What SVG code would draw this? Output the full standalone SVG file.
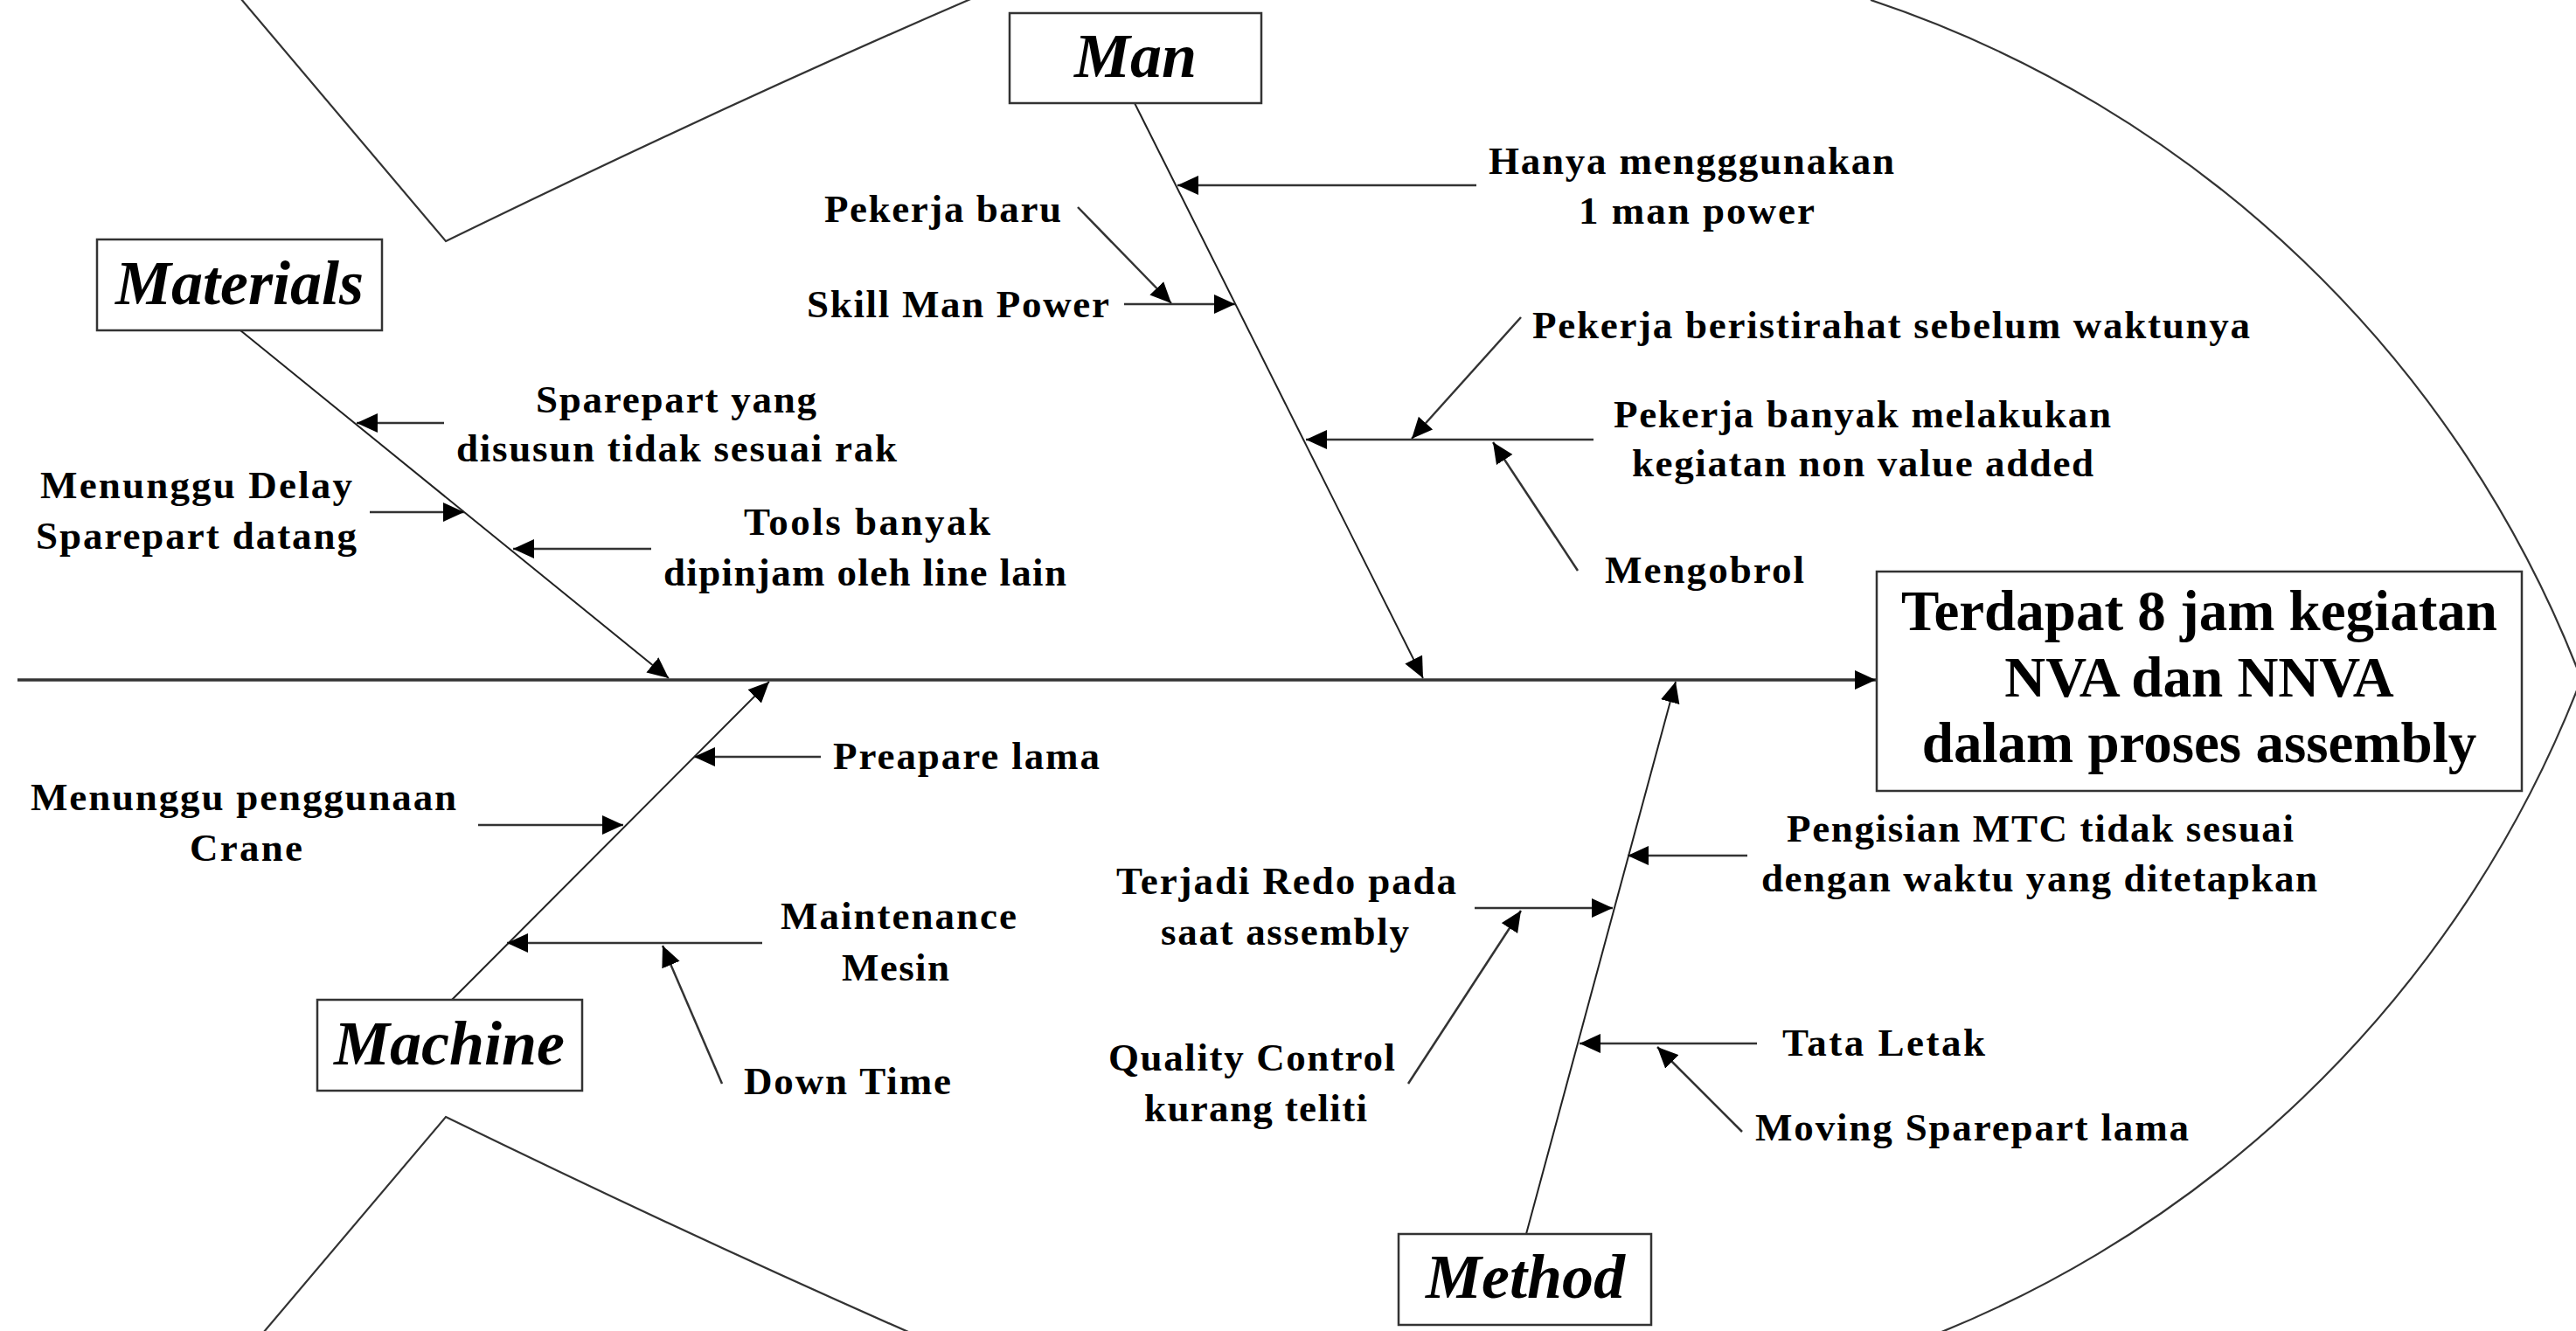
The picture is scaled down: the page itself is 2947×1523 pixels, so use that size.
<svg xmlns="http://www.w3.org/2000/svg" width="2947" height="1523" viewBox="0 0 2947 1523">
<style>
.bg{fill:#fff}
.fish{fill:none;stroke:#333;stroke-width:2.2}
.box{fill:#fff;stroke:#333;stroke-width:2.5}
.cat{font-family:"Liberation Serif","Times New Roman",serif;font-weight:bold;font-style:italic;font-size:72px;fill:#000;text-anchor:middle}
.title{font-family:"Liberation Serif","Times New Roman",serif;font-weight:bold;font-size:65px;fill:#000;text-anchor:middle}
.lbl{font-family:"Liberation Serif","Times New Roman",serif;font-weight:bold;font-size:45px;fill:#000}
.bone{fill:none;stroke:#222;stroke-width:2;marker-end:url(#ah)}
.sub{fill:none;stroke:#333;stroke-width:2.5;marker-end:url(#ah)}
.spine{fill:none;stroke:#333;stroke-width:3.5;marker-end:url(#ah)}
</style>
<defs>
<marker id="ah" markerUnits="userSpaceOnUse" markerWidth="26" markerHeight="24" refX="24" refY="11" orient="auto">
<path d="M0,0 L24,11 L0,22 Z" fill="#000"/>
</marker>
</defs>
<rect class="bg" x="0" y="0" width="2947" height="1523"/>
<g id="fish-outline">
<path class="fish" d="M270,-8 L510,276 Q830,120 1108,0 L1160,-22"/>
<path class="fish" d="M2140,0 A1315,1315 0 0 1 2953,777"/>
<path class="fish" d="M296,1531 L510,1278 Q830,1434 1108,1554"/>
<path class="fish" d="M2953,777 A1315,1315 0 0 1 2140,1554"/>
</g>
<g id="connectors">
<path class="spine" d="M20,778 L2146,778"/>
<path class="bone" d="M275,378 L765,776"/>
<path class="bone" d="M1298,118 L1628,776"/>
<path class="bone" d="M517,1144 L880,780"/>
<path class="bone" d="M1746,1412 L1917,780"/>
<path class="sub" d="M1689,212 L1347,212"/>
<path class="sub" d="M1233,237 L1340,347"/>
<path class="sub" d="M1286,348 L1413,348"/>
<path class="sub" d="M1740,363 L1615,502"/>
<path class="sub" d="M1823,503 L1494,503"/>
<path class="sub" d="M1805,653 L1708,506"/>
<path class="sub" d="M508,484 L408,484"/>
<path class="sub" d="M423,586 L531,586"/>
<path class="sub" d="M745,628 L587,628"/>
<path class="sub" d="M939,866 L794,866"/>
<path class="sub" d="M547,944 L713,944"/>
<path class="sub" d="M872,1079 L580,1079"/>
<path class="sub" d="M826,1240 L758,1082"/>
<path class="sub" d="M1999,979 L1862,979"/>
<path class="sub" d="M1687,1039 L1845,1039"/>
<path class="sub" d="M1611,1240 L1740,1042"/>
<path class="sub" d="M2010,1194 L1807,1194"/>
<path class="sub" d="M1993,1295 L1896,1198"/>
</g>
<g id="node-man">
<rect class="box" x="1155" y="15" width="288" height="103"/>
<text class="cat" x="1299" y="88">Man</text>
</g>
<g id="node-materials">
<rect class="box" x="111" y="274" width="326" height="104"/>
<text class="cat" x="274" y="348">Materials</text>
</g>
<g id="node-machine">
<rect class="box" x="363" y="1144" width="303" height="104"/>
<text class="cat" x="514" y="1218">Machine</text>
</g>
<g id="node-method">
<rect class="box" x="1600" y="1412" width="289" height="104"/>
<text class="cat" x="1745" y="1485">Method</text>
</g>
<g id="node-effect">
<rect class="box" x="2147" y="654" width="738" height="251"/>
<text class="title" x="2516" y="721">Terdapat 8 jam kegiatan</text>
<text class="title" x="2516" y="797">NVA dan NNVA</text>
<text class="title" x="2516" y="872">dalam proses assembly</text>
</g>
<g id="causes-man">
<text class="lbl" x="1703" y="199" textLength="464" lengthAdjust="spacing">Hanya mengggunakan</text>
<text class="lbl" x="1806" y="256" textLength="270" lengthAdjust="spacing">1 man power</text>
<text class="lbl" x="943" y="254" textLength="271" lengthAdjust="spacing">Pekerja baru</text>
<text class="lbl" x="923" y="363" textLength="346" lengthAdjust="spacing">Skill Man Power</text>
<text class="lbl" x="1753" y="387" textLength="821" lengthAdjust="spacing">Pekerja beristirahat sebelum waktunya</text>
<text class="lbl" x="1846" y="489" textLength="569" lengthAdjust="spacing">Pekerja banyak melakukan</text>
<text class="lbl" x="1867" y="545" textLength="528" lengthAdjust="spacing">kegiatan non value added</text>
<text class="lbl" x="1836" y="667" textLength="228" lengthAdjust="spacing">Mengobrol</text>
</g>
<g id="causes-materials">
<text class="lbl" x="613" y="472" textLength="321" lengthAdjust="spacing">Sparepart yang</text>
<text class="lbl" x="522" y="528" textLength="504" lengthAdjust="spacing">disusun tidak sesuai rak</text>
<text class="lbl" x="46" y="570" textLength="357" lengthAdjust="spacing">Menunggu Delay</text>
<text class="lbl" x="41" y="628" textLength="367" lengthAdjust="spacing">Sparepart datang</text>
<text class="lbl" x="851" y="612" textLength="282" lengthAdjust="spacing">Tools banyak</text>
<text class="lbl" x="759" y="670" textLength="461" lengthAdjust="spacing">dipinjam oleh line lain</text>
</g>
<g id="causes-machine">
<text class="lbl" x="953" y="880" textLength="305" lengthAdjust="spacing">Preapare lama</text>
<text class="lbl" x="35" y="927" textLength="487" lengthAdjust="spacing">Menunggu penggunaan</text>
<text class="lbl" x="217" y="985" textLength="129" lengthAdjust="spacing">Crane</text>
<text class="lbl" x="893" y="1063" textLength="270" lengthAdjust="spacing">Maintenance</text>
<text class="lbl" x="963" y="1122" textLength="123" lengthAdjust="spacing">Mesin</text>
<text class="lbl" x="851" y="1252" textLength="237" lengthAdjust="spacing">Down Time</text>
</g>
<g id="causes-method">
<text class="lbl" x="1277" y="1023" textLength="389" lengthAdjust="spacing">Terjadi Redo pada</text>
<text class="lbl" x="1328" y="1081" textLength="284" lengthAdjust="spacing">saat assembly</text>
<text class="lbl" x="1268" y="1225" textLength="328" lengthAdjust="spacing">Quality Control</text>
<text class="lbl" x="1309" y="1283" textLength="255" lengthAdjust="spacing">kurang teliti</text>
<text class="lbl" x="2044" y="963" textLength="580" lengthAdjust="spacing">Pengisian MTC tidak sesuai</text>
<text class="lbl" x="2015" y="1020" textLength="636" lengthAdjust="spacing">dengan waktu yang ditetapkan</text>
<text class="lbl" x="2039" y="1208" textLength="232" lengthAdjust="spacing">Tata Letak</text>
<text class="lbl" x="2008" y="1305" textLength="496" lengthAdjust="spacing">Moving Sparepart lama</text>
</g>
</svg>
